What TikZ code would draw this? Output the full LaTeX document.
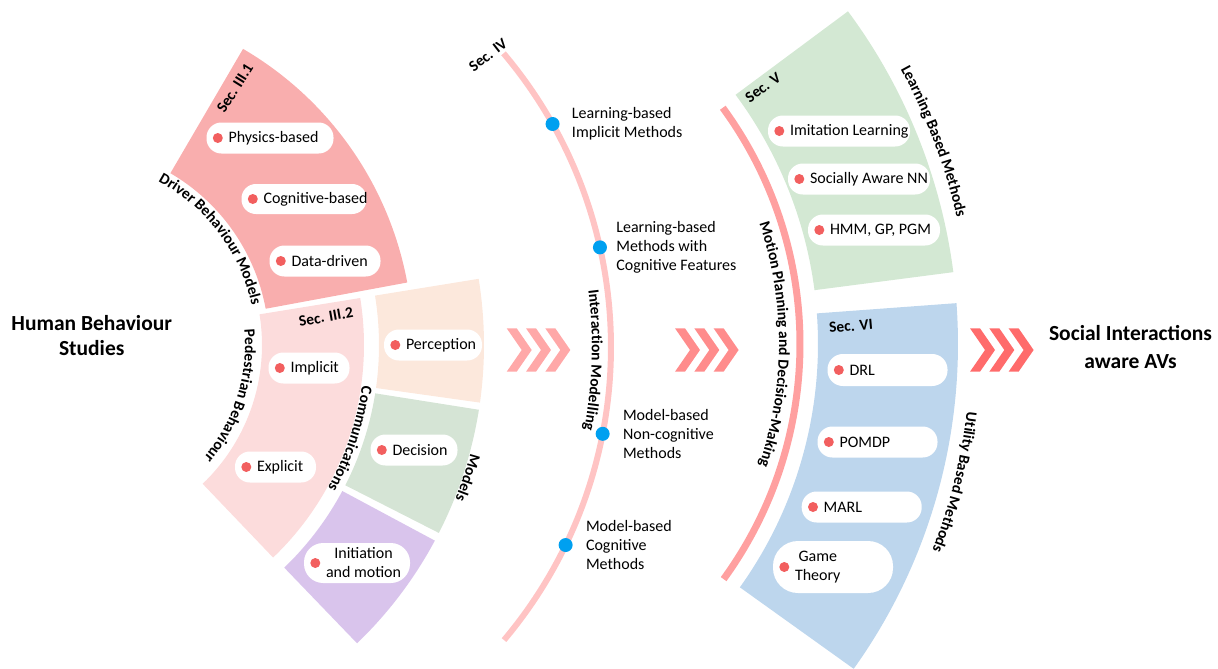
\documentclass[tikz,border=0pt]{standalone}
\usepackage{fontspec}
\setmainfont{Carlito}
\usetikzlibrary{calc,positioning,decorations.text}

\definecolor{drvpink}{HTML}{F9AEAE}
\definecolor{pedpink}{HTML}{FCDCDC}
\definecolor{percpeach}{HTML}{FCE8DC}
\definecolor{decgreen}{HTML}{D5E4D5}
\definecolor{initpurple}{HTML}{D9C4EC}
\definecolor{lrngreen}{HTML}{D3E8D3}
\definecolor{utilblue}{HTML}{BDD6ED}
\definecolor{midarc}{HTML}{FFC4C4}
\definecolor{motionarc}{HTML}{FFA0A0}
\definecolor{dotred}{HTML}{F25F5F}
\definecolor{dotblue}{HTML}{00A0F0}
\definecolor{chevA}{HTML}{FFA8A8}
\definecolor{chevB}{HTML}{FF8C8C}
\definecolor{chevC}{HTML}{FF6B6B}

\newcommand{\pillfont}{\fontsize{16}{19}\selectfont}
\newcommand{\tagfont}{\bfseries\fontsize{15.5}{18}\selectfont}

\tikzset{
  pillbox/.style={fill=white, inner sep=0pt},
  pilltext/.style={inner sep=0pt, anchor=west, align=center, font=\pillfont},
  midtext/.style={inner sep=0pt, anchor=west, align=left, font=\pillfont},
  bluedot/.style={circle, fill=dotblue, minimum size=14pt, inner sep=0pt},
  sectag/.style={font=\tagfont, inner sep=0pt},
  arctag/.style={decorate, decoration={text along path, text align=center, text={|\tagfont|#1}}},
  titletext/.style={inner sep=0pt, align=center}
}

\begin{document}
\begin{tikzpicture}[x=1pt,y=1pt]
\useasboundingbox (0,0) rectangle (1218,-669);

\coordinate (L) at (70,-345);
\coordinate (M) at (156,-347);
\coordinate (R) at (400,-344);

\foreach \c/\a/\b/\ri/\ro/\col in {L/10.5/59.7/199/343/drvpink, L/-46.3/9.2/192/294/pedpink,
  L/-8/9.2/309/414/percpeach, L/-27/-9/309/414/decgreen, L/-46.1/-28.2/309/414/initpurple,
  R/7.4/36.6/418/558/lrngreen, R/-35.6/4.2/418/558/utilblue}
\fill[\col] ($(\c)+(\a:\ri)$) arc[start angle=\a, end angle=\b, radius=\ri]
  -- ($(\c)+(\b:\ro)$) arc[start angle=\b, end angle=\a, radius=\ro] -- cycle;

\draw[midarc, line width=6pt] ($(M)+(40.2:455)$) arc[start angle=40.2, end angle=-40.1, radius=455];
\draw[motionarc, line width=7pt] ($(R)+(36.2:400)$) arc[start angle=36.2, end angle=-36, radius=400];

\foreach \nm/\x/\y/\w/\h/\txt in {phys/270/138/127/31/Physics-based, cogn/304/199/125/30/Cognitive-based,
  data/325/261/111/31/Data-driven, impl/309/368/81/31/Implicit, expl/275.5/467/81/31/Explicit,
  perc/433/345/98/31/Perception, deci/414/450/87/31/Decision, init/357/563/106/40/Initiation\\and motion,
  imit/839/131/142/31/Imitation Learning, soci/859/179/142/31/Socially Aware NN, hmm/874/230/132/31/{HMM, GP, PGM},
  drl/887.5/370/120/32/DRL, pomdp/877.5/442/120/31/POMDP, marl/861.7/507/120/31/MARL, game/833/567/120/52/Game\\Theory}
{
\node[pillbox, minimum width=\w, minimum height=\h, rounded corners=\h*0.48] (\nm) at (\x,-\y) {};
\fill[dotred] ([xshift=11.5pt]\nm.west) circle[radius=5];
\node[pilltext] (\nm-t) at ([xshift=22pt]\nm.west) {\txt};
}

\node[bluedot] (d1) at ($(M)+(29.35:455)$) {};
\node[bluedot] (d2) at ($(M)+(12.65:455)$) {};
\node[bluedot] (d3) at ($(M)+(-11:455)$) {};
\node[bluedot] (d4) at ($(M)+(-25.8:455)$) {};
\node[midtext, right=12pt of d1] (m1) {Learning-based\\Implicit Methods};
\node[midtext, right=9pt of d2] (m2) {Learning-based\\Methods with\\Cognitive Features};
\node[midtext, right=13pt of d3] (m3) {Model-based\\Non-cognitive\\Methods};
\node[midtext, right=13pt of d4] (m4) {Model-based\\Cognitive\\Methods};

\foreach \x/\col in {506.7/chevA, 675/chevB, 970/chevC}
\foreach \k in {0,1,2}
\fill[\col] (\x+\k*19.3,-328.3) -- ++(10,0) -- ++(15,-21.7) -- ++(-15,-21.7) -- ++(-10,0) -- ++(15,21.7) -- cycle;

\path[arctag={Driver Behaviour Models}] ($(L)+(64:186)$) arc[start angle=64, end angle=10, radius=186];
\path[arctag={Pedestrian Behaviour}] ($(L)+(12:175)$) arc[start angle=12, end angle=-47, radius=175];
\path[arctag={Communications}] ($(L)+(10:295)$) arc[start angle=10, end angle=-47, radius=295];
\path[arctag={Models}] ($(L)+(10:415)$) arc[start angle=10, end angle=-47, radius=415];
\path[arctag={Interaction Modelling}] ($(M)+(38:436)$) arc[start angle=38, end angle=-41.4, radius=436];
\path[arctag={Motion Planning and Decision-Making}] ($(R)+(36:379)$) arc[start angle=36, end angle=-36, radius=379];
\path[arctag={Learning Based Methods}] ($(R)+(40:571)$) arc[start angle=40, end angle=1.6, radius=571];
\path[arctag={Utility Based Methods}] ($(R)+(10:571)$) arc[start angle=10, end angle=-38, radius=571];

\node[sectag, rotate=58] (s31) at (235,-88) {Sec. III.1};
\node[sectag, rotate=10] (s32) at (326,-317) {Sec. III.2};
\node[sectag, rotate=38] (s4) at (488,-55) {Sec. IV};
\node[sectag, rotate=36] (s5) at (763,-87.5) {Sec. V};
\node[sectag, rotate=5] (s6) at (851,-326) {Sec. VI};

\node[titletext, font=\bfseries\fontsize{21.5}{25}\selectfont] (hbs) at (91.7,-335.8) {Human Behaviour\\Studies};
\node[titletext, font=\bfseries\fontsize{21.5}{28}\selectfont] (sia) at (1130.5,-347.5) {Social Interactions\\aware AVs};
\end{tikzpicture}
\end{document}
